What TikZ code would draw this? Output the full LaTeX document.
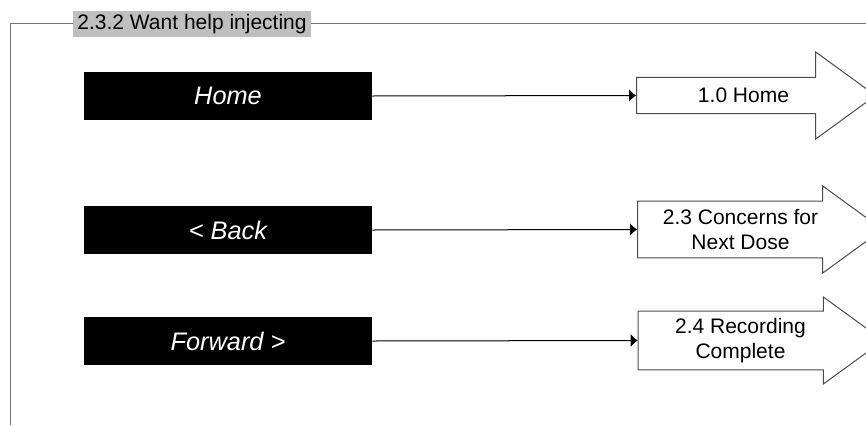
\documentclass[tikz,border=0pt]{standalone}
\usepackage{fontspec}
\setmainfont{Liberation Sans}
\usepackage{xcolor}
\usetikzlibrary{shapes.arrows,arrows.meta}

\begin{document}
\begin{tikzpicture}[x=0.75pt,y=-0.75pt,
  navbox/.style={fill=black, text=white, minimum width=216pt, minimum height=36pt,
    inner sep=0pt, font=\fontsize{19}{23}\selectfont\itshape},
  pagearrow/.style={draw=black!70, line width=0.75pt, fill=white, single arrow,
    minimum height=183.75pt, minimum width=65.25pt, single arrow head extend=8.25pt,
    single arrow tip angle=72, inner sep=0pt, align=center,
    font=\fontsize{15.75}{18.9}\selectfont},
  link/.style={-{Latex[length=5.25pt,width=9.75pt]}, line width=0.75pt, black}]
\useasboundingbox (0,0) rectangle (866,425);
\draw[black!55, line width=0.75pt] (10.5,425) -- (10.5,23.5) -- (866,23.5);
\node[fill=black!25, minimum height=19.5pt, inner xsep=3pt, inner ysep=0pt,
  font=\fontsize{15.75}{18.9}\selectfont] (title) at (192,24) {2.3.2 Want help injecting};

\node[navbox] (home) at (228,96) {Home};
\node[navbox] (back) at (228,230) {< Back};
\node[navbox] (forward) at (228,341) {Forward >};

\node[pagearrow, minimum height=179.25pt] (p10) at (743.5,95.5) {1.0 Home};
\node[pagearrow] (p23) at (740.5,229.5) {2.3 Concerns for\\Next Dose};
\node[pagearrow] (p24) at (740.5,340.5) {2.4 Recording\\Complete};

\draw[link] (home.east) -- (p10.tail);
\draw[link] (back.east) -- (p23.tail);
\draw[link] (forward.east) -- (p24.tail);
\end{tikzpicture}
\end{document}
